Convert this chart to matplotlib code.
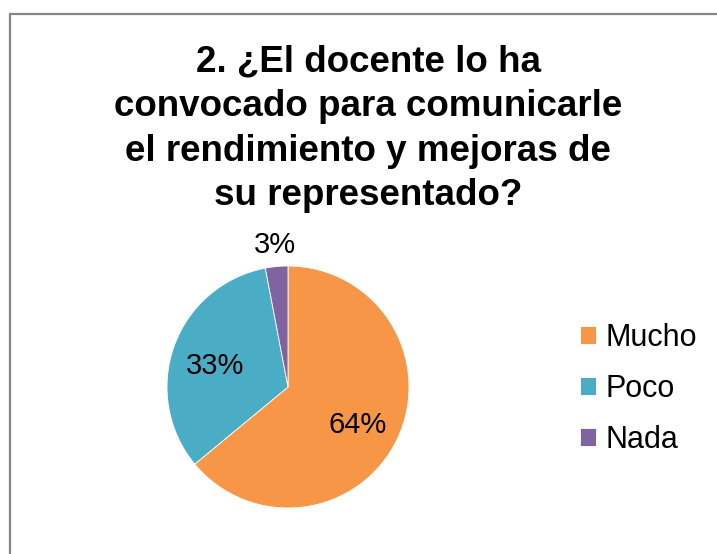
import numpy as np
import matplotlib
matplotlib.use("Agg")
import matplotlib.pyplot as plt
from matplotlib.patches import Rectangle

plt.rcParams['font.family'] = ['Liberation Sans', 'DejaVu Sans']

# chart data
categories = ["Mucho", "Poco", "Nada"]
values = [64, 33, 3]
colors = ["#F79646", "#4BACC6", "#8064A2"]
title = "2. ¿El docente lo ha\nconvocado para comunicarle\nel rendimiento y mejoras de\nsu representado?"

W, H = 717, 554
fig = plt.figure(figsize=(W / 100, H / 100), dpi=100)

# chart frame (cropped at right and bottom)
fig.patches.append(Rectangle((10 / W, -0.1), 1.2, (H - 14) / H + 0.1,
                             transform=fig.transFigure, fill=False,
                             edgecolor="#878787", linewidth=1.6))

fig.text(368 / W, 1 - 45 / H, title, ha="center", va="top",
         fontsize=26.5, fontweight="bold", linespacing=1.345)

# pie axes: centre (288, 387) px, radius 121 px
cx, cy, r = 288, 387, 121
ax = fig.add_axes([(cx - r) / W, (H - cy - r) / H, 2 * r / W, 2 * r / H])
wedges, _ = ax.pie(values, colors=colors, startangle=90, counterclock=False,
                   radius=1, wedgeprops=dict(edgecolor="white", linewidth=0.6))
ax.set_xlim(-1, 1)
ax.set_ylim(-1, 1)
ax.set_aspect("equal")
ax.axis("off")

# percentage labels: small slices go outside, the rest inside
total = sum(values)
for w, v in zip(wedges, values):
    ang = np.deg2rad((w.theta1 + w.theta2) / 2)
    if v / total < 0.05:
        x, y = 1.18 * np.cos(ang), 1.18 * np.sin(ang)
    else:
        x, y = 0.64 * np.cos(ang), 0.64 * np.sin(ang) - 0.04
    ax.text(x, y, f"{v}%", ha="center", va="center", fontsize=21, color="black")

fig.legend(wedges, categories, loc="center left",
           bbox_to_anchor=(552 / W, 1 - 389 / H), frameon=False,
           fontsize=22, handlelength=0.55, handleheight=0.55,
           handletextpad=0.3, labelspacing=0.69)

fig.savefig("out.png", dpi=100)
